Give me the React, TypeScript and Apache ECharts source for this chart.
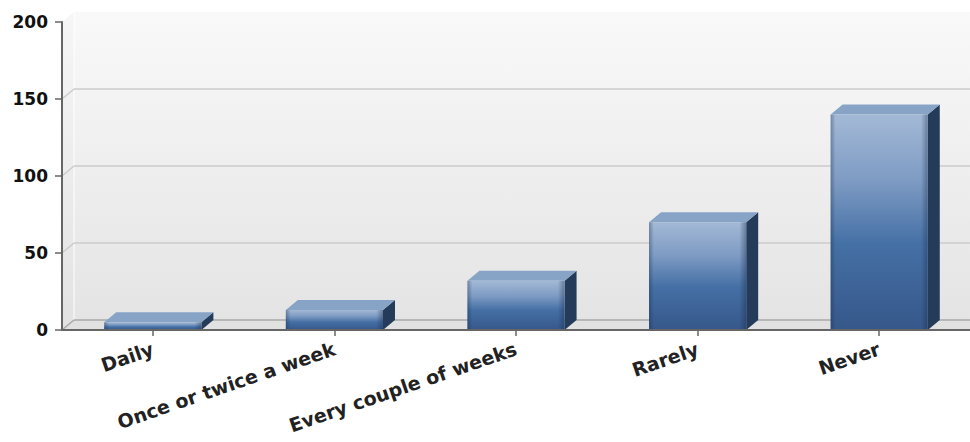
import { useEffect, useRef } from "react";
import * as echarts from "echarts";

const categories = ["Daily", "Once or twice a week", "Every couple of weeks", "Rarely", "Never"];
const values = [5, 13, 32, 70, 140];
const yTicks = [0, 50, 100, 150, 200];

const DX = 12;
const DY = -10;

export default function App() {
  const ref = useRef<HTMLDivElement>(null);
  useEffect(() => {
    if (!ref.current) return;
    document.body.style.margin = "0";
    const chart = echarts.init(ref.current, undefined, { renderer: "svg" });

    const backdrop = (params: any, api: any) => {
      const cs = params.coordSys;
      const x0 = cs.x;
      const x1 = cs.x + cs.width;
      const yb = api.coord([0, 0])[1];
      const yt = api.coord([0, yTicks[yTicks.length - 1]])[1];
      const children: any[] = [];
      children.push({
        type: "rect",
        shape: { x: x0 + DX, y: yt + DY, width: x1 - x0 + 40, height: yb - yt },
        style: {
          fill: new echarts.graphic.LinearGradient(0, 0, 0, 1, [
            { offset: 0, color: "#f9f9f9" },
            { offset: 1, color: "#e4e4e4" },
          ]),
        },
      });
      children.push({
        type: "polygon",
        shape: { points: [[x0, yt], [x0 + DX, yt + DY], [x0 + DX, yb + DY], [x0, yb]] },
        style: {
          fill: new echarts.graphic.LinearGradient(0, 0, 0, 1, [
            { offset: 0, color: "#f6f6f6" },
            { offset: 1, color: "#e2e2e2" },
          ]),
        },
      });
      children.push({
        type: "polygon",
        shape: { points: [[x0, yb], [x0 + DX, yb + DY], [x1 + DX + 40, yb + DY], [x1 + 40, yb]] },
        style: { fill: "#e1e1e1" },
      });
      children.push({
        type: "line",
        shape: { x1: x0 + DX, y1: yt + DY, x2: x0 + DX, y2: yb + DY },
        style: { stroke: "#ffffff", lineWidth: 1 },
      });
      yTicks.forEach((t) => {
        if (t === yTicks[yTicks.length - 1]) return;
        const y = api.coord([0, t])[1];
        const c = t === 0 ? "#a8a8a8" : "#cbcbcb";
        children.push({
          type: "line",
          shape: { x1: x0, y1: y, x2: x0 + DX, y2: y + DY },
          style: { stroke: c, lineWidth: 1.5 },
        });
        children.push({
          type: "line",
          shape: { x1: x0 + DX, y1: y + DY, x2: x1 + DX + 40, y2: y + DY },
          style: { stroke: c, lineWidth: 1.5 },
        });
      });
      return { type: "group", children };
    };

    const bar3d = (params: any, api: any) => {
      const idx = api.value(0);
      const val = api.value(1);
      const [cx, top] = api.coord([idx, val]);
      const base = api.coord([idx, 0])[1];
      const bw = api.size([1, 0])[0] * 0.535;
      const l = cx - bw / 2;
      const r = cx + bw / 2;
      return {
        type: "group",
        children: [
          {
            type: "polygon",
            shape: { points: [[r, top], [r + DX, top + DY], [r + DX, base + DY], [r, base]] },
            style: { fill: "#243b5a" },
          },
          {
            type: "polygon",
            shape: { points: [[l, top], [l + DX, top + DY], [r + DX, top + DY], [r, top]] },
            style: { fill: "#87a4c7" },
          },
          {
            type: "rect",
            shape: { x: l, y: top, width: bw, height: base - top },
            style: {
              fill: new echarts.graphic.LinearGradient(0, 0, 0, 1, [
                { offset: 0, color: "#a3b9d6" },
                { offset: 0.3, color: "#7f9cc4" },
                { offset: 0.6, color: "#4570a5" },
                { offset: 1, color: "#36578a" },
              ]),
            },
          },
          {
            type: "rect",
            shape: { x: l, y: top, width: bw, height: base - top },
            style: {
              fill: new echarts.graphic.LinearGradient(0, 0, 1, 0, [
                { offset: 0, color: "rgba(20,40,70,0.35)" },
                { offset: 0.05, color: "rgba(20,40,70,0)" },
                { offset: 0.93, color: "rgba(20,40,70,0)" },
                { offset: 1, color: "rgba(20,40,70,0.4)" },
              ]),
            },
          },
        ],
      };
    };

    chart.setOption({
      animation: false,
      backgroundColor: "#ffffff",
      grid: { left: 62, top: 22, bottom: 112, width: 910 },
      xAxis: {
        type: "category",
        data: categories,
        z: 10,
        axisLine: { show: true, lineStyle: { color: "#666666", width: 2 } },
        axisTick: { show: true, alignWithLabel: true, length: 6, lineStyle: { color: "#666666", width: 1.5 } },
        axisLabel: {
          interval: 0,
          rotate: 19,
          margin: 18,
          fontFamily: "DejaVu Sans",
          fontWeight: "bold",
          fontSize: 19,
          color: "#222222",
        },
        splitLine: { show: false },
      },
      yAxis: {
        type: "value",
        min: 0,
        max: 200,
        interval: 50,
        z: 10,
        axisLine: { show: true, lineStyle: { color: "#666666", width: 2 } },
        axisTick: { show: true, length: 7, lineStyle: { color: "#666666", width: 1.5 } },
        axisLabel: {
          margin: 14,
          fontFamily: "DejaVu Sans",
          fontWeight: "bold",
          fontSize: 17,
          color: "#111111",
        },
        splitLine: { show: false },
      },
      series: [
        {
          type: "custom",
          z: 1,
          clip: false,
          silent: true,
          data: [[0, 0]],
          renderItem: backdrop,
        },
        {
          type: "custom",
          z: 3,
          clip: false,
          data: values.map((v, i) => [i, v]),
          encode: { x: 0, y: 1 },
          renderItem: bar3d,
        },
      ],
    });
    return () => chart.dispose();
  }, []);
  return (
    <div
      ref={ref}
      style={{ position: "absolute", left: 0, top: 0, width: 970, height: 442 }}
    />
  );
}
